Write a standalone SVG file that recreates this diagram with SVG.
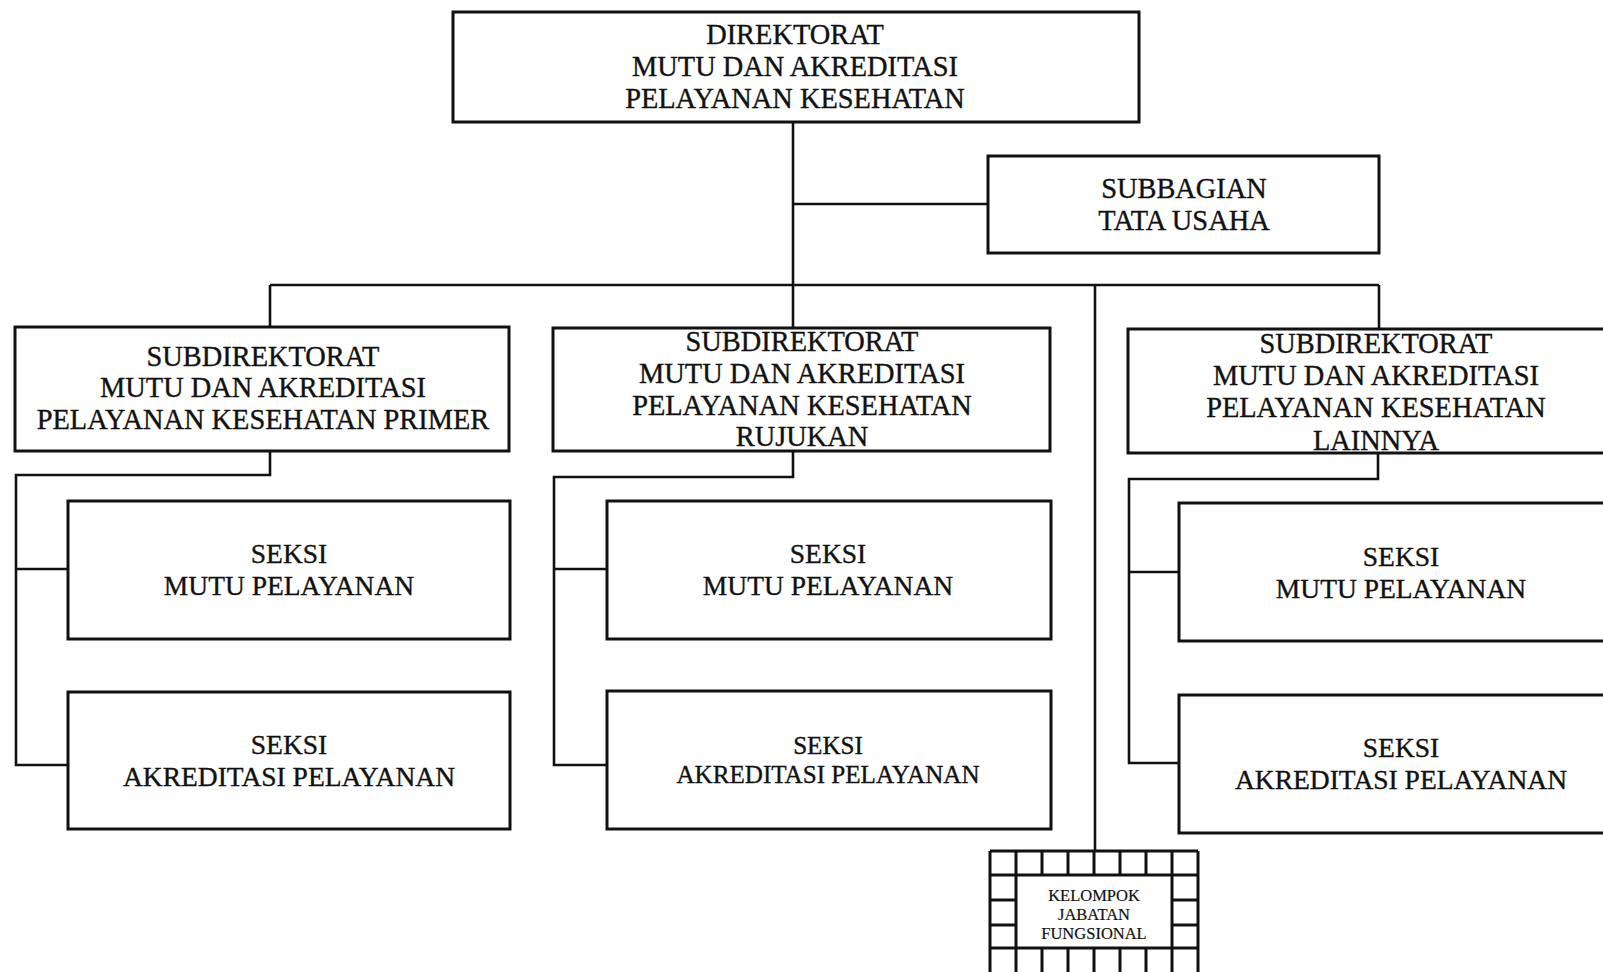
<svg xmlns="http://www.w3.org/2000/svg" width="1603" height="972" viewBox="0 0 1603 972">
  <style>
    .box { fill: #ffffff; stroke: #111111; stroke-width: 3; }
    .ln { fill: none; stroke: #111111; stroke-width: 2.6; }
    .grid { fill: none; stroke: #111111; stroke-width: 3; }
    text { font-family: "Liberation Serif", "Times New Roman", serif; fill: #111111; stroke: #111111; stroke-width: 0.35; text-anchor: middle; }
    .t1 { font-size: 28.4px; }
    .t2 { font-size: 27.5px; }
    .t3 { font-size: 25.1px; }
    .t4 { font-size: 16.5px; stroke-width: 0.2; }
  </style>
  <rect x="0" y="0" width="1603" height="972" fill="#ffffff"/>

  <!-- connectors -->
  <g id="connectors">
    <path class="ln" d="M793,123 V328"/>
    <path class="ln" d="M793,204 H988"/>
    <path class="ln" d="M270,285 H1379"/>
    <path class="ln" d="M270,285 V327"/>
    <path class="ln" d="M1379,285 V329"/>
    <path class="ln" d="M1095,285 V851"/>
    <!-- primary sub-directorate sections -->
    <path class="ln" d="M270,451 V475 H16 V765 H68"/>
    <path class="ln" d="M16,569 H68"/>
    <!-- referral sub-directorate sections -->
    <path class="ln" d="M793,451 V477 H554 V765 H607"/>
    <path class="ln" d="M554,569 H607"/>
    <!-- other services sub-directorate sections -->
    <path class="ln" d="M1378,453 V479 H1129 V763 H1179"/>
    <path class="ln" d="M1129,572 H1179"/>
  </g>

  <g id="direktorat">
    <rect class="box" x="453" y="12" width="686" height="110"/>
    <text class="t1" x="795" y="44">DIREKTORAT</text>
    <text class="t1" x="795" y="76">MUTU DAN AKREDITASI</text>
    <text class="t1" x="795" y="108">PELAYANAN KESEHATAN</text>
  </g>

  <g id="subbagian-tu">
    <rect class="box" x="988" y="156" width="391" height="97"/>
    <text class="t1" x="1184" y="198">SUBBAGIAN</text>
    <text class="t1" x="1184" y="230">TATA USAHA</text>
  </g>

  <g id="subdit-primer">
    <rect class="box" x="15" y="327" width="494" height="124"/>
    <text class="t1" x="263" y="366">SUBDIREKTORAT</text>
    <text class="t1" x="263" y="397">MUTU DAN AKREDITASI</text>
    <text class="t1" x="263" y="429">PELAYANAN KESEHATAN PRIMER</text>
  </g>

  <g id="subdit-rujukan">
    <rect class="box" x="553" y="328" width="497" height="123"/>
    <text class="t1" x="802" y="351">SUBDIREKTORAT</text>
    <text class="t1" x="802" y="383">MUTU DAN AKREDITASI</text>
    <text class="t1" x="802" y="415">PELAYANAN KESEHATAN</text>
    <text class="t1" x="802" y="446">RUJUKAN</text>
  </g>

  <g id="subdit-lainnya">
    <rect class="box" x="1128" y="329" width="500" height="124"/>
    <text class="t1" x="1376" y="353">SUBDIREKTORAT</text>
    <text class="t1" x="1376" y="385">MUTU DAN AKREDITASI</text>
    <text class="t1" x="1376" y="417">PELAYANAN KESEHATAN</text>
    <text class="t1" x="1376" y="450">LAINNYA</text>
  </g>

  <g id="seksi-mutu-primer">
    <rect class="box" x="68" y="501" width="442" height="138"/>
    <text class="t2" x="289" y="563">SEKSI</text>
    <text class="t2" x="289" y="595">MUTU PELAYANAN</text>
  </g>
  <g id="seksi-akreditasi-primer">
    <rect class="box" x="68" y="692" width="442" height="137"/>
    <text class="t2" x="289" y="754">SEKSI</text>
    <text class="t2" x="289" y="786">AKREDITASI PELAYANAN</text>
  </g>

  <g id="seksi-mutu-rujukan">
    <rect class="box" x="607" y="501" width="444" height="138"/>
    <text class="t2" x="828" y="563">SEKSI</text>
    <text class="t2" x="828" y="595">MUTU PELAYANAN</text>
  </g>
  <g id="seksi-akreditasi-rujukan">
    <rect class="box" x="607" y="691" width="444" height="138"/>
    <text class="t3" x="828" y="754">SEKSI</text>
    <text class="t3" x="828" y="783">AKREDITASI PELAYANAN</text>
  </g>

  <g id="seksi-mutu-lainnya">
    <rect class="box" x="1179" y="503" width="440" height="138"/>
    <text class="t2" x="1401" y="566">SEKSI</text>
    <text class="t2" x="1401" y="598">MUTU PELAYANAN</text>
  </g>
  <g id="seksi-akreditasi-lainnya">
    <rect class="box" x="1179" y="695" width="440" height="138"/>
    <text class="t2" x="1401" y="757">SEKSI</text>
    <text class="t2" x="1401" y="789">AKREDITASI PELAYANAN</text>
  </g>

  <g id="kelompok-jabatan-fungsional">
    <!-- framed block with a ring of cells around the label -->
    <path class="grid" d="M990,851 H1198 M990,875 H1198 M990,948 H1198 M990,851 V990 M1198,851 V990
      M1016,851 V875 M1042,851 V875 M1068,851 V875 M1094,851 V875 M1120,851 V875 M1146,851 V875 M1172,851 V875
      M1016,948 V990 M1042,948 V990 M1068,948 V990 M1094,948 V990 M1120,948 V990 M1146,948 V990 M1172,948 V990
      M1016,875 V948 M1172,875 V948
      M990,900 H1016 M990,925 H1016 M1172,900 H1198 M1172,925 H1198"/>
    <text class="t4" x="1094" y="901">KELOMPOK</text>
    <text class="t4" x="1094" y="920">JABATAN</text>
    <text class="t4" x="1094" y="939">FUNGSIONAL</text>
  </g>
</svg>
